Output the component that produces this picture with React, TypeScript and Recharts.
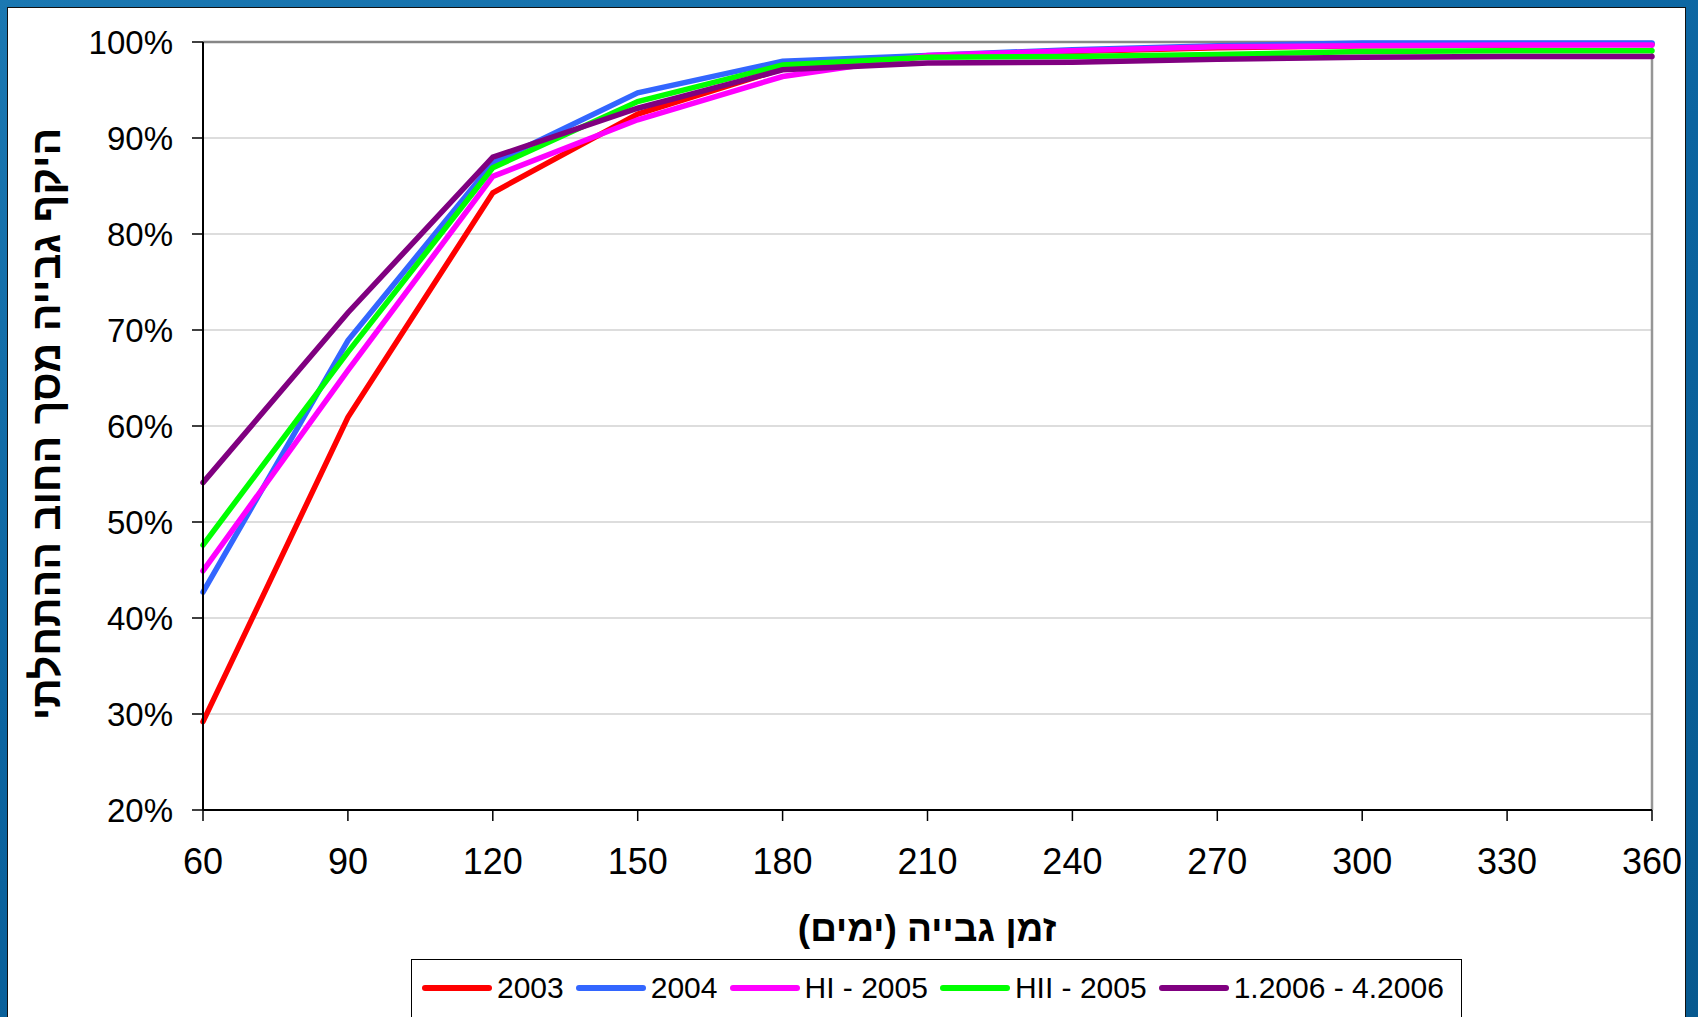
import React from 'react'
import {
  LineChart,
  Line,
  XAxis,
  YAxis,
  CartesianGrid,
  ReferenceLine,
} from 'recharts'

// collection horizon (days)
const DAYS = [60, 90, 120, 150, 180, 210, 240, 270, 300, 330, 360]

// share of the opening debt collected (%)
const Y2003 = [29.2, 60.9, 84.3, 92.5, 97.2, 98.5, 99.0, 99.4, 99.6, 99.7, 99.8]
const Y2004 = [42.7, 68.9, 87.4, 94.7, 98.0, 98.6, 99.2, 99.6, 99.9, 99.9, 99.9]
const H1_2005 = [44.9, 65.8, 86.0, 91.9, 96.4, 98.6, 99.1, 99.5, 99.6, 99.7, 99.7]
const H2_2005 = [47.6, 67.7, 86.9, 93.8, 97.6, 98.4, 98.5, 98.7, 99.0, 99.1, 99.1]
const P2006 = [54.1, 71.8, 88.0, 93.1, 97.1, 97.8, 97.9, 98.2, 98.4, 98.5, 98.5]

const Y_TICKS = [20, 30, 40, 50, 60, 70, 80, 90, 100]

const SERIES = [
  { key: 's2003', name: '2003', color: '#FF0000', values: Y2003 },
  { key: 's2004', name: '2004', color: '#3366FF', values: Y2004 },
  { key: 'h1', name: 'HI - 2005', color: '#FF00FF', values: H1_2005 },
  { key: 'h2', name: 'HII - 2005', color: '#00FF00', values: H2_2005 },
  { key: 'p2006', name: '1.2006 - 4.2006', color: '#800080', values: P2006 },
]

const X_TITLE = 'זמן גבייה (ימים)'
const Y_TITLE = 'היקף גבייה מסך החוב ההתחלתי'

const FONT = '"Liberation Sans", Arial, "DejaVu Sans", sans-serif'

const data = DAYS.map((day, i) => {
  const row: Record<string, number> = { day }
  SERIES.forEach((s) => {
    row[s.key] = s.values[i]
  })
  return row
})

export default function App() {
  return (
    <div
      style={{
        position: 'absolute',
        left: 0,
        top: 0,
        width: 1698,
        height: 1017,
        overflow: 'hidden',
        background: 'linear-gradient(160deg, #1b78b2 0%, #0b64a0 45%, #07598f 100%)',
        fontFamily: FONT,
      }}
    >
      {/* white panel */}
      <div
        style={{
          position: 'absolute',
          left: 7,
          top: 7,
          width: 1677,
          height: 1030,
          background: '#fff',
          border: '1px solid #111',
        }}
      />

      <div style={{ position: 'absolute', left: 0, top: 0 }}>
        <LineChart
          width={1698}
          height={1017}
          data={data}
          margin={{ top: 42, right: 46, bottom: 147, left: 143 }}
        >
          <CartesianGrid vertical={false} stroke="#d2d2d2" strokeWidth={1.5} />
          <ReferenceLine y={100} stroke="#868686" strokeWidth={2.5} />
          <ReferenceLine x={360} stroke="#969696" strokeWidth={2.5} />
          <XAxis
            dataKey="day"
            type="number"
            domain={[60, 360]}
            ticks={DAYS}
            height={60}
            tickSize={11}
            tickMargin={27}
            axisLine={{ stroke: '#000', strokeWidth: 2 }}
            tickLine={{ stroke: '#000', strokeWidth: 1.5 }}
            tick={{ fill: '#000', fontSize: 36, fontFamily: FONT }}
          />
          <YAxis
            type="number"
            domain={[20, 100]}
            ticks={Y_TICKS}
            width={60}
            tickSize={11}
            tickMargin={19}
            tickFormatter={(v: number) => `${v}%`}
            axisLine={{ stroke: '#000', strokeWidth: 2 }}
            tickLine={{ stroke: '#000', strokeWidth: 1.5 }}
            tick={{ fill: '#000', fontSize: 33, fontFamily: FONT }}
          />
          {SERIES.map((s) => (
            <Line
              key={s.key}
              type="linear"
              dataKey={s.key}
              name={s.name}
              stroke={s.color}
              strokeWidth={5.5}
              strokeLinecap="round"
              dot={false}
              activeDot={false}
              isAnimationActive={false}
            />
          ))}
        </LineChart>
      </div>

      {/* y axis title */}
      <div
        dir="rtl"
        style={{
          position: 'absolute',
          left: 46,
          top: 424,
          transform: 'translate(-50%, -50%) rotate(-90deg)',
          fontSize: 41,
          fontWeight: 'bold',
          whiteSpace: 'nowrap',
          color: '#000',
        }}
      >
        {Y_TITLE}
      </div>

      {/* x axis title */}
      <div
        dir="rtl"
        style={{
          position: 'absolute',
          left: 927,
          top: 929,
          transform: 'translate(-50%, -50%)',
          fontSize: 37,
          fontWeight: 'bold',
          whiteSpace: 'nowrap',
          color: '#000',
        }}
      >
        {X_TITLE}
      </div>

      {/* legend */}
      <div
        style={{
          position: 'absolute',
          left: 411,
          top: 959,
          width: 1051,
          height: 80,
          border: '1.5px solid #000',
          background: '#fff',
          boxSizing: 'border-box',
          display: 'flex',
          alignItems: 'flex-start',
          paddingLeft: 10,
          paddingTop: 10,
        }}
      >
        {SERIES.map((s) => (
          <div
            key={s.key}
            style={{ display: 'flex', alignItems: 'center', marginRight: 12, height: 36 }}
          >
            <div
              style={{
                width: 70,
                height: 6,
                borderRadius: 3,
                background: s.color,
                marginRight: 5,
              }}
            />
            <span style={{ fontSize: 30, color: '#000', whiteSpace: 'nowrap' }}>{s.name}</span>
          </div>
        ))}
      </div>
    </div>
  )
}
